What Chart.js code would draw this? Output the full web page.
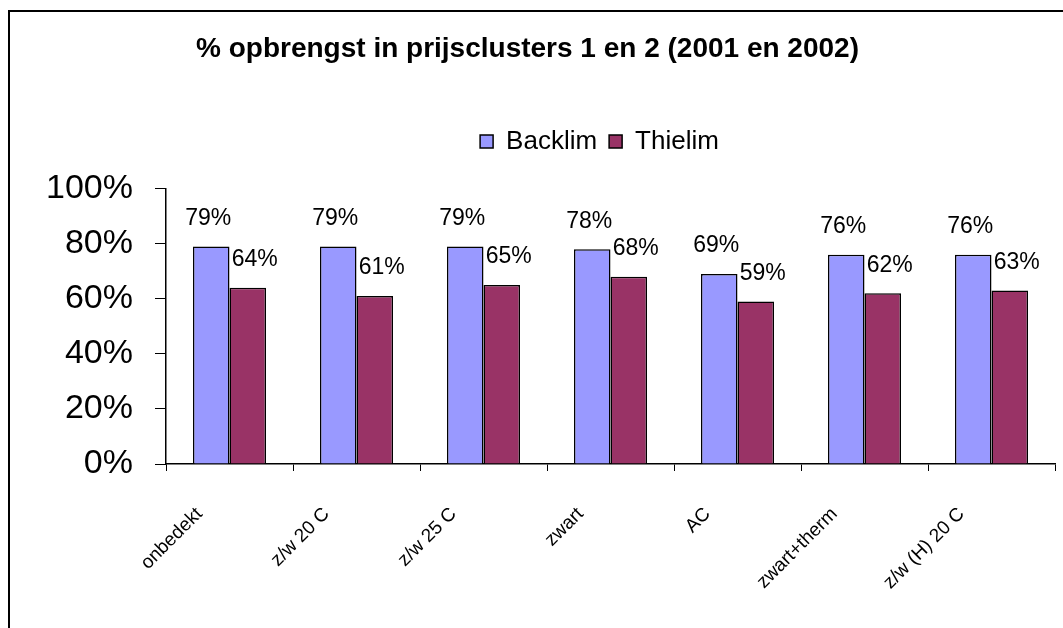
<!DOCTYPE html>
<html>
<head>
<meta charset="utf-8">
<script src="https://cdn.jsdelivr.net/npm/chart.js@4.4.1/dist/chart.umd.min.js"></script>
<style>
    html, body { margin: 0; padding: 0; background: #fff; }
    #wrap { position: relative; width: 1063px; height: 628px; }
</style>
</head>
<body>
<div id="wrap"><canvas id="chart" width="1063" height="628"></canvas></div>
<script>
// categories and series
const categories = ["onbedekt", "z/w 20 C", "z/w 25 C", "zwart", "AC", "zwart+therm", "z/w (H) 20 C"];
const backlim = [79, 79, 79, 78, 69, 76, 76];
const thielim = [64, 61, 65, 68, 59, 62, 63];
const yTicks = [0, 20, 40, 60, 80, 100];

const FONT = "'Liberation Sans', Arial, sans-serif";
const COLORS = {
    backlim: "#9999FF",
    thielim: "#993366",
    line: "#000000"
};

// outer frame (only top and left edges show) + legend placement tweaks
const framePlugin = {
    id: "frame",
    afterInit(chart) {
        // leave a gap between the legend row and the plot
        const fit = chart.legend.fit;
        chart.legend.fit = function () {
            fit.call(this);
            this.height += 24;
        };
    },
    afterLayout(chart) {
        // the legend sits a bit right of centre in the original
        chart.legend.left += 72;
        chart.legend.right += 72;
    },
    beforeDraw(chart) {
        const ctx = chart.ctx;
        ctx.save();
        ctx.strokeStyle = "#000";
        ctx.lineWidth = 2;
        ctx.beginPath();
        ctx.moveTo(9, 628);
        ctx.lineTo(9, 11);
        ctx.lineTo(1063, 11);
        ctx.stroke();
        ctx.restore();
    }
};

// value labels, offset the way the spreadsheet put them
const valueLabels = {
    id: "valueLabels",
    afterDatasetsDraw(chart) {
        const ctx = chart.ctx;
        const dx = [-3, 7];
        ctx.save();
        ctx.font = "23px " + FONT;
        ctx.fillStyle = "#000";
        ctx.textAlign = "center";
        ctx.textBaseline = "middle";
        chart.data.datasets.forEach((ds, i) => {
            chart.getDatasetMeta(i).data.forEach((bar, j) => {
                ctx.fillText(Math.round(ds.data[j]) + "%", bar.x + dx[i], bar.y - 28);
            });
        });
        ctx.restore();
    }
};

new Chart(document.getElementById("chart"), {
    type: "bar",
    data: {
        labels: categories,
        datasets: [
            {
                label: "Backlim",
                data: backlim,
                backgroundColor: COLORS.backlim,
                borderColor: COLORS.line,
                borderWidth: 1.5,
                categoryPercentage: 0.575,
                barPercentage: 1
            },
            {
                label: "Thielim",
                data: thielim,
                backgroundColor: COLORS.thielim,
                borderColor: COLORS.line,
                borderWidth: 1.5,
                categoryPercentage: 0.575,
                barPercentage: 1
            }
        ]
    },
    options: {
        responsive: false,
        animation: false,
        layout: { padding: { left: 0, right: 8, top: 0, bottom: 0 } },
        plugins: {
            title: {
                display: true,
                text: "% opbrengst in prijsclusters 1 en 2 (2001 en 2002)",
                color: "#000",
                font: { family: FONT, size: 28, weight: "bold" },
                padding: { top: 32, bottom: 51 }
            },
            legend: {
                display: true,
                labels: {
                    color: "#000",
                    font: { family: FONT, size: 26 },
                    boxWidth: 13,
                    boxHeight: 13,
                    padding: 12
                }
            },
            tooltip: { enabled: false }
        },
        scales: {
            x: {
                grid: {
                    display: true,
                    drawOnChartArea: false,
                    color: COLORS.line,
                    tickLength: 7,
                    offset: true
                },
                border: { display: true, color: COLORS.line, width: 1.5 },
                ticks: {
                    color: "#000",
                    font: { family: FONT, size: 19 },
                    maxRotation: 45,
                    minRotation: 45,
                    autoSkip: false,
                    labelOffset: -30,
                    padding: 32
                },
                afterFit(scale) { scale.height = 164; }
            },
            y: {
                min: 0,
                max: 100,
                afterBuildTicks(scale) { scale.ticks = yTicks.map(v => ({ value: v })); },
                grid: {
                    display: true,
                    drawOnChartArea: false,
                    color: COLORS.line,
                    tickLength: 11
                },
                border: { display: true, color: COLORS.line, width: 1.5 },
                ticks: {
                    color: "#000",
                    font: { family: FONT, size: 34 },
                    padding: 22,
                    callback: v => v + "%"
                },
                afterFit(scale) { scale.width = 166; }
            }
        }
    },
    plugins: [framePlugin, valueLabels]
});
</script>
</body>
</html>
